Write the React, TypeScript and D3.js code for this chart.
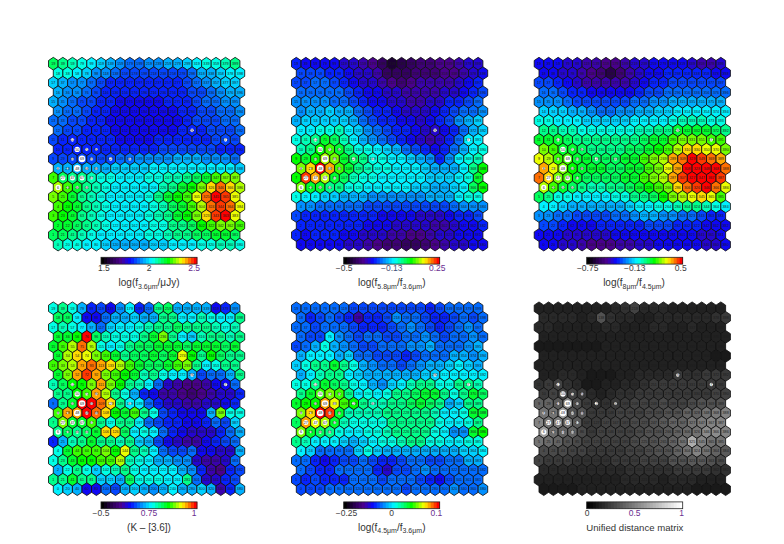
import React from "react";
import * as d3 from "d3";

// Each row is a grid row from top (cell 19, 39, ...) to bottom (cell 0, 20, ...).
// Values are positions along each panel's colour bar, 0 to 100.
const flux36 = [
[64,62,58,54,50,47,44,41,40,40,41,42,44,45,47,50,54,56,58,60],
[56,54,50,47,43,41,38,36,35,35,35,35,36,37,40,44,46,48,50,51],
[48,46,43,41,38,36,34,33,33,33,33,33,33,34,36,39,42,44,47,48],
[46,43,41,38,36,34,33,32,32,32,32,32,33,33,35,37,40,42,44,45],
[44,42,39,37,35,33,32,31,31,31,31,31,32,33,34,36,38,40,42,43],
[42,40,38,36,34,32,31,30,30,30,30,30,31,32,33,35,37,38,40,41],
[40,38,37,35,33,32,31,30,30,30,30,30,30,31,33,35,36,37,39,40],
[38,37,36,34,33,32,31,30,30,30,30,30,31,32,33,34,35,36,37,38],
[35,34,33,33,33,32,32,31,31,31,31,32,32,33,34,34,34,35,35,36],
[34,33,33,33,33,33,33,33,33,33,34,35,36,37,37,36,35,34,33,33],
[37,36,36,36,35,36,37,38,40,41,42,43,43,44,44,44,43,42,41,40],
[45,45,44,44,44,46,47,47,48,49,50,50,50,51,51,51,50,50,50,49],
[72,65,62,60,58,55,54,53,53,53,54,55,57,59,62,65,68,73,77,78],
[80,72,68,62,58,54,52,50,50,51,53,57,62,66,70,78,85,93,86,80],
[76,72,66,62,58,54,52,50,50,52,55,60,66,70,74,82,92,100,96,84],
[74,70,66,62,58,54,52,50,50,52,55,59,64,68,72,80,92,96,92,82],
[72,70,66,62,59,55,52,51,51,52,55,58,62,66,70,78,86,94,100,84],
[68,66,63,60,57,54,52,50,50,52,54,56,60,62,65,70,74,78,78,74],
[64,63,60,58,56,53,51,50,50,51,54,56,58,60,61,63,65,66,66,65],
[58,56,54,52,50,47,45,44,44,45,47,49,50,52,53,55,56,57,58,56],
];

const ratio58 = [
[32,31,31,30,30,28,26,24,20,15,9,11,13,16,18,20,20,22,25,27],
[36,35,35,34,32,30,28,25,22,14,13,15,17,18,18,19,20,22,27,30],
[37,37,38,38,36,34,31,28,26,22,20,18,20,22,22,22,24,26,30,33],
[39,39,40,40,38,36,33,31,29,27,25,23,22,23,24,26,28,30,33,36],
[41,41,43,42,40,38,36,33,31,29,28,25,24,24,26,28,32,34,36,38],
[43,44,45,47,46,45,40,36,33,32,30,28,26,26,30,33,36,38,40,42],
[46,47,48,49,49,48,44,39,36,34,32,30,29,28,30,32,36,41,44,47],
[50,51,54,56,57,52,47,42,38,36,34,32,30,28,26,30,34,38,44,47],
[55,58,62,66,65,58,52,46,43,40,37,34,31,27,24,28,33,38,50,52],
[58,62,70,72,68,60,56,54,50,47,44,40,37,33,30,34,40,46,52,56],
[70,68,70,80,76,68,64,60,56,54,52,50,48,46,42,34,42,50,54,58],
[76,86,100,90,74,66,60,58,56,54,53,52,50,48,45,44,46,50,62,70],
[70,96,88,80,68,64,58,56,54,53,52,51,50,50,49,48,48,50,54,66],
[76,68,66,62,60,56,54,53,52,51,50,50,49,48,46,46,47,50,64,70],
[56,52,50,48,47,46,44,44,43,43,43,43,43,43,44,44,46,50,54,56],
[42,41,40,40,39,38,38,37,36,36,35,35,35,36,36,37,39,41,42,42],
[35,34,34,34,33,33,33,32,32,31,31,30,29,28,27,27,30,32,33,35],
[33,33,33,33,33,33,32,31,30,29,28,27,27,26,24,24,27,29,31,33],
[32,31,32,32,32,31,30,28,26,25,24,22,21,21,23,25,27,29,30,31],
[31,31,31,31,30,28,26,24,21,18,16,15,15,18,20,24,26,27,29,30],
];

const ratio8 = [
[30,29,29,28,26,24,22,20,20,22,25,28,30,31,31,30,28,24,23,28],
[31,30,28,26,24,20,17,11,18,22,26,29,31,32,32,32,32,32,31,31],
[36,35,33,30,28,24,22,22,22,24,28,31,33,34,35,35,35,35,35,35],
[39,38,36,34,32,30,29,29,30,31,33,35,37,38,39,40,40,40,40,40],
[43,42,41,40,37,36,35,35,36,37,38,40,42,43,45,46,46,46,45,45],
[49,49,47,46,44,42,40,40,41,43,44,46,47,48,50,52,52,50,50,50],
[54,54,53,52,50,48,47,47,48,49,50,51,52,53,55,58,58,57,56,54],
[60,60,59,57,55,55,54,54,55,56,57,58,60,62,66,68,68,66,64,62],
[68,68,66,64,62,61,60,60,60,62,62,64,66,68,72,78,78,76,74,72],
[76,74,68,66,64,62,62,62,62,63,65,67,70,74,80,85,87,84,82,78],
[84,80,74,72,68,66,65,65,65,66,68,72,76,80,88,93,97,94,92,88],
[90,84,78,70,68,66,66,65,65,66,68,73,78,83,90,99,100,99,98,92],
[92,85,78,74,66,64,64,64,65,66,68,72,76,80,88,96,100,100,98,94],
[80,72,68,64,60,58,58,60,62,63,66,70,74,78,86,92,96,98,92,84],
[64,60,56,54,52,50,50,52,54,56,60,62,65,70,76,80,84,86,82,72],
[52,50,48,46,45,44,44,45,46,47,50,52,54,56,58,60,60,58,54,52],
[42,42,40,38,36,36,36,37,38,40,42,44,45,43,41,40,38,36,34,34],
[36,35,33,31,31,31,32,33,33,33,34,35,35,35,34,33,32,30,30,31],
[30,30,29,28,27,27,27,28,29,29,30,30,31,31,31,31,30,28,28,29],
[31,29,27,25,24,21,20,20,22,24,26,28,30,31,31,31,29,28,27,30],
];

const colourK = [
[55,62,55,44,33,35,30,42,50,33,40,60,64,46,44,46,44,30,32,42],
[63,64,52,30,30,40,44,46,48,44,46,60,62,52,52,58,54,50,52,60],
[54,58,56,52,44,40,48,50,52,54,58,62,62,64,60,62,60,58,54,58],
[66,66,70,100,64,58,56,56,56,60,66,78,60,52,48,58,60,60,58,62],
[66,74,80,92,80,56,52,56,62,64,64,68,66,66,64,66,68,66,64,66],
[66,80,86,84,78,74,68,62,64,64,66,64,68,84,70,62,70,64,60,62],
[72,76,80,88,92,90,86,80,74,68,64,64,66,72,78,62,52,54,60,60],
[66,76,90,94,90,78,74,70,66,58,60,56,52,52,46,36,38,40,46,60],
[58,64,70,70,76,88,78,70,60,58,52,38,28,24,20,20,24,30,30,38],
[60,62,70,72,90,80,60,56,44,34,30,24,22,20,18,20,22,26,26,34],
[40,60,68,100,98,92,86,60,52,50,38,32,28,26,24,24,26,28,30,34],
[72,88,90,98,92,86,70,66,72,62,56,36,34,30,30,30,44,76,56,54],
[60,76,66,66,72,60,56,60,62,50,40,36,34,32,30,30,32,38,36,48],
[62,64,62,64,66,86,86,64,50,56,52,38,32,30,26,26,28,34,38,46],
[34,44,58,62,66,60,60,58,62,48,44,36,30,26,24,24,30,34,36,40],
[56,68,72,72,72,76,70,84,60,58,50,40,36,36,38,30,30,28,26,46],
[56,62,66,70,70,72,74,80,58,56,52,46,44,42,42,28,24,24,26,38],
[46,54,60,56,48,54,58,60,56,52,52,50,50,46,42,34,24,20,32,36],
[60,60,68,62,60,48,48,46,64,56,54,54,52,52,60,40,26,26,32,36],
[50,48,44,30,30,40,36,44,48,44,42,44,50,46,46,48,46,24,34,44],
];

const ratio45 = [
[38,38,38,39,40,38,36,35,36,37,36,35,36,35,34,36,40,40,38,38],
[38,32,36,40,36,34,24,32,33,37,42,40,38,36,34,34,37,38,36,38],
[38,40,37,40,40,38,36,34,34,34,36,38,42,38,37,32,35,38,42,40],
[38,36,36,50,42,40,36,38,38,36,36,38,38,42,38,36,38,40,42,40],
[36,38,44,56,44,42,38,35,35,38,38,40,42,42,44,40,38,38,42,44],
[46,50,52,50,46,48,40,38,37,36,36,32,35,40,40,38,46,46,42,46],
[48,54,60,60,66,62,54,46,42,40,38,36,40,42,46,44,48,50,48,46],
[46,50,58,60,62,52,48,46,44,44,46,44,46,48,48,50,52,52,50,52],
[56,56,60,66,64,60,54,52,46,42,48,52,58,60,60,56,54,60,60,58],
[60,66,72,76,74,60,52,56,52,56,62,62,64,66,66,62,56,60,66,64],
[68,70,70,90,84,72,70,60,58,58,60,62,64,66,64,60,46,48,60,62],
[76,86,100,94,68,58,58,58,58,60,60,62,62,62,58,52,52,56,66,68],
[64,88,84,80,68,58,56,54,56,56,60,62,62,62,60,54,50,52,54,62],
[78,66,64,62,56,50,52,54,56,58,60,62,62,62,56,52,42,42,66,70],
[60,58,50,50,50,48,44,48,50,54,56,58,60,60,56,54,50,50,54,56],
[50,48,40,40,40,40,48,54,48,46,44,44,46,46,44,44,46,48,48,50],
[40,38,32,30,34,36,36,38,36,32,32,36,38,40,36,36,38,40,44,44],
[38,36,32,32,38,40,40,38,32,28,36,36,38,42,38,40,38,38,40,40],
[36,34,36,34,32,34,38,40,38,36,38,38,38,36,32,30,36,40,40,38],
[36,36,36,38,38,38,38,38,40,40,38,36,38,38,38,40,42,40,40,42],
];

const distance = [
[15,15,15,15,14,13,13,15,17,20,26,18,18,16,15,14,14,14,13,13],
[16,16,16,16,15,18,34,20,18,16,14,14,16,16,18,16,16,18,20,22],
[16,16,14,14,13,13,14,16,16,14,13,14,16,16,14,14,16,15,14,14],
[14,14,14,14,13,13,14,14,14,13,13,14,14,14,14,14,14,14,14,15],
[10,10,11,12,12,12,12,14,14,14,14,14,14,14,14,14,14,14,13,13],
[14,14,14,15,15,14,14,14,14,14,15,15,15,15,15,15,13,13,12,12],
[14,14,14,14,13,13,14,14,14,14,14,15,15,15,15,15,15,15,15,15],
[14,15,16,17,14,12,10,12,13,14,16,18,18,18,22,20,20,22,22,24],
[20,22,25,20,18,12,10,13,15,16,18,20,22,22,22,22,22,22,22,24],
[24,26,28,28,24,18,14,16,20,20,22,22,24,22,22,22,22,24,26,26],
[40,38,36,50,30,24,20,20,24,24,26,28,28,30,28,28,30,32,32,34],
[46,44,60,34,32,22,24,24,26,26,28,30,30,32,34,38,38,46,48,50],
[50,46,48,44,36,22,24,26,28,28,30,30,32,36,38,40,44,48,50,50],
[60,42,40,38,30,24,25,26,28,28,30,32,34,36,38,42,46,54,56,52],
[44,42,38,34,30,26,25,25,26,28,30,32,34,36,40,44,66,50,46,44],
[30,30,30,28,26,24,24,24,24,26,28,30,32,34,38,44,50,46,40,36],
[26,24,24,22,20,20,20,20,22,22,24,26,26,28,32,34,36,36,32,30],
[18,18,18,18,18,18,18,18,18,20,20,20,20,20,22,24,22,22,20,20],
[14,14,15,15,15,15,15,15,15,16,16,16,16,15,16,16,16,15,14,14],
[10,11,11,12,13,13,14,14,14,14,14,14,14,14,13,13,12,12,12,12],
];

// Cells that carry a white disc, and its relative size.
const markerCells = [48,69,50,27,47,67,6,51,70,90,49,89,129,169,8,28,68,88,87,26,46,66,292,371];
const markerSizes = [3.3,3.3,2.7,2.5,2.5,2.5,2.6,1.8,1.6,1.4,1.5,1.6,1.8,1.5,1.4,1.0,1.7,1.5,1.5,1.2,1.6,1.5,1.8,1.8];

const RAINBOW_STOPS = [0, 0.1, 0.2, 0.3, 0.42, 0.53, 0.71, 0.85, 1];
const RAINBOW_COLOURS = ["#000000", "#2a0050", "#4b0090", "#0808ff", "#0090ff", "#00ffff", "#00ff00", "#ffff00", "#ff0000"];
const GREY_STOPS = [0, 1];
const GREY_COLOURS = ["#000000", "#ffffff"];

const titleFlux = [["log(f", "n"], ["3.6μm", "s"], ["/μJy)", "n"]];
const title58 = [["log(f", "n"], ["5.8μm", "s"], ["/f", "n"], ["3.6μm", "s"], [")", "n"]];
const title8 = [["log(f", "n"], ["8μm", "s"], ["/f", "n"], ["4.5μm", "s"], [")", "n"]];
const titleK = [["(K – [3.6])", "n"]];
const title45 = [["log(f", "n"], ["4.5μm", "s"], ["/f", "n"], ["3.6μm", "s"], [")", "n"]];
const titleU = [["Unified distance matrix", "n"]];

const INK = "#3a3a3a";
const PURPLE = "#6a2f90";
const PANELS = [
  { data: flux36, title: titleFlux, titleSize: 10, x0: 53.3, y0: 63.7, bar: 101, mid: 149, ticks: ["1.5", "2", "2.5"], tickAt: [3, 50, 97], tickInk: [INK, INK, PURPLE], grey: false },
  { data: ratio58, title: title58, titleSize: 10, x0: 296.3, y0: 63.7, bar: 343.7, mid: 391.7, ticks: ["−0.5", "−0.13", "0.25"], tickAt: [0.5, 50, 97.5], tickInk: [INK, "#3f4f78", PURPLE], grey: false },
  { data: ratio8, title: title8, titleSize: 10, x0: 539, y0: 63.7, bar: 586.7, mid: 634, ticks: ["−0.75", "−0.13", "0.5"], tickAt: [1, 50, 98], tickInk: [INK, INK, INK], grey: false },
  { data: colourK, title: titleK, titleSize: 10, x0: 53.3, y0: 308.3, bar: 101, mid: 149, ticks: ["−0.5", "0.75", "1"], tickAt: [0, 50, 97], tickInk: [INK, PURPLE, PURPLE], grey: false },
  { data: ratio45, title: title45, titleSize: 10, x0: 296.3, y0: 308.3, bar: 343.7, mid: 391.7, ticks: ["−0.25", "0", "0.1"], tickAt: [3, 50, 96.5], tickInk: [INK, INK, PURPLE], grey: false },
  { data: distance, title: titleU, titleSize: 9.6, x0: 539, y0: 308.3, bar: 586.7, mid: 634.8, ticks: ["0", "0.5", "1"], tickAt: [0.5, 50, 99], tickInk: [INK, PURPLE, PURPLE], grey: true },
];

const COLS = 20;
const ROWS = 20;
const DX = 9.57;
const DY = 9.52;
const SIDE = DY / 1.5;
const BAR_W = 96;
const BAR_H = 6.8;
const STEPS = 32;

const rainbow = d3.scaleLinear<string>().domain(RAINBOW_STOPS).range(RAINBOW_COLOURS).interpolate(d3.interpolateRgb);
const grey = d3.scaleLinear<string>().domain(GREY_STOPS).range(GREY_COLOURS);

const hexPath = (() => {
  const h = DX / 2;
  const line = d3.line();
  return line([[0, -SIDE], [h, -SIDE / 2], [h, SIDE / 2], [0, SIDE], [-h, SIDE / 2], [-h, -SIDE / 2]]) + "Z";
})();

function Panel({ p }: { p: (typeof PANELS)[number] }) {
  const paint = (v: number) => {
    const t = Math.min(Math.floor((v / 100) * STEPS), STEPS - 1) / (STEPS - 1);
    return p.grey ? grey(t) : rainbow(t);
  };
  const xCell = d3.scaleLinear().domain([0, COLS - 1]).range([p.x0, p.x0 + DX * (COLS - 1)]);
  const yRow = d3.scaleLinear().domain([0, ROWS - 1]).range([p.y0, p.y0 + DY * (ROWS - 1)]);
  const barX = d3.scaleLinear().domain([0, 100]).range([p.bar, p.bar + BAR_W]);
  const top = p.y0 + 193.6;
  const cellPos = (r: number, c: number) => ({ x: xCell(c) + (r % 2 === 1 ? DX / 2 : 0), y: yRow(r) });
  const cells = p.data.flatMap((row, r) =>
    row.map((v, c) => ({ v, r, c, id: c * ROWS + (ROWS - 1 - r), ...cellPos(r, c) }))
  );
  return (
    <g>
      {cells.map((d) => (
        <path key={d.id} d={hexPath} transform={`translate(${d.x},${d.y})`} fill={paint(d.v)} stroke="#101010" strokeWidth={0.85} strokeLinejoin="round" />
      ))}
      {cells.map((d) => {
        const i = markerCells.indexOf(d.id);
        return i >= 0 ? <circle key={d.id} cx={d.x} cy={d.y} r={markerSizes[i]} fill="#fff" /> : null;
      })}
      {cells.map((d) => (
        <text key={d.id} x={d.x} y={d.y + 1.3} fontSize={3.7} textAnchor="middle" fill="#1c1c1c" fontFamily="Liberation Sans">{d.id}</text>
      ))}
      {d3.range(STEPS).map((i) => (
        <rect key={i} x={barX((i * 100) / STEPS)} y={top} width={BAR_W / STEPS + 0.3} height={BAR_H} fill={p.grey ? grey(i / (STEPS - 1)) : rainbow(i / (STEPS - 1))} />
      ))}
      <rect x={p.bar} y={top} width={BAR_W} height={BAR_H} fill="none" stroke="#222" strokeWidth={0.8} />
      {p.ticks.map((t, i) => (
        <text key={t} x={barX(p.tickAt[i])} y={top + 13.8} fontSize={8.5} textAnchor="middle" fill={p.tickInk[i]} fontFamily="Liberation Sans">{t}</text>
      ))}
      <text x={p.mid} y={top + 29} fontSize={p.titleSize} textAnchor="middle" fill="#333" fontFamily="Liberation Sans">
        {p.title.map(([s, kind], i) =>
          kind === "s" ? (
            <tspan key={i} fontSize={7} dy={2.2}>{s}</tspan>
          ) : (
            <tspan key={i} dy={i > 0 ? -2.2 : 0}>{s}</tspan>
          )
        )}
      </text>
    </g>
  );
}

export default function App() {
  return (
    <svg width={784} height={544} style={{ position: "absolute", left: 0, top: 0, background: "#fff" }}>
      {PANELS.map((p, i) => (
        <Panel key={i} p={p} />
      ))}
    </svg>
  );
}
